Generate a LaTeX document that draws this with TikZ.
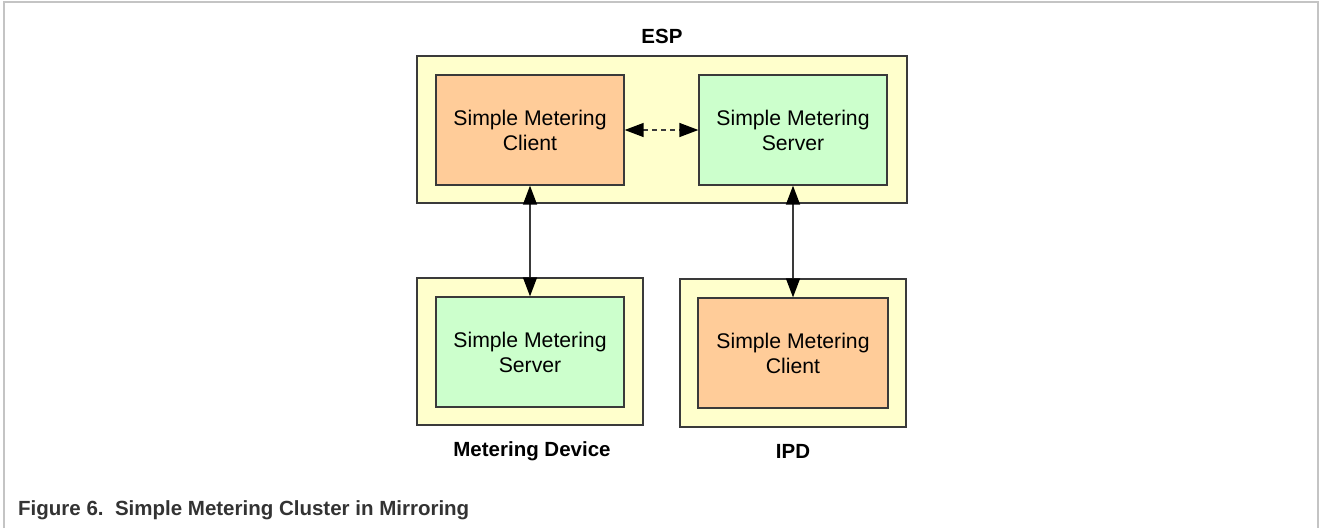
\documentclass[tikz,border=0pt]{standalone}
\usepackage{fontspec}
\setmainfont{Liberation Sans}
\usetikzlibrary{arrows.meta}
\definecolor{devfill}{HTML}{FFFFCC}
\definecolor{clientfill}{HTML}{FFCC99}
\definecolor{serverfill}{HTML}{CCFFCC}
\definecolor{boxline}{HTML}{3A3A3A}
\definecolor{framegray}{HTML}{C4C4C4}
\definecolor{captiongray}{HTML}{333333}
\tikzset{
  device/.style={draw=boxline, line width=1.3pt, fill=devfill},
  cluster/.style={draw=boxline, line width=1.3pt, align=center,
    font=\fontsize{21.2}{25}\selectfont, inner sep=0pt},
  clientbox/.style={cluster, fill=clientfill},
  serverbox/.style={cluster, fill=serverfill},
  devlabel/.style={font=\fontsize{20.5}{24}\selectfont\bfseries},
  tip/.tip={Triangle[length=19pt,width=14pt,color=black,fill=black]},
  link/.style={line width=1.4pt, draw=boxline, {tip}-{tip}},
}
\begin{document}
\begin{tikzpicture}[x=1pt, y=-1pt]
  \useasboundingbox (0,0) rectangle (1320,528);
  % page frame
  \draw[framegray, line width=2pt] (4,528) -- (4,2) -- (1318,2) -- (1318,528);

  % ESP
  \draw[device] (417,56) rectangle (907,203);
  \node[devlabel] (esplabel) at (662,36) {ESP};
  \node[clientbox, minimum width=188pt, minimum height=110pt] (espclient) at (530,130) {Simple Metering\\Client};
  \node[serverbox, minimum width=188pt, minimum height=110pt] (espserver) at (793,130) {Simple Metering\\Server};

  % Metering Device
  \draw[device] (417,278) rectangle (643,425);
  \node[serverbox, minimum width=188pt, minimum height=110pt] (mdserver) at (530,352) {Simple Metering\\Server};
  \node[devlabel] (mdlabel) at (532,451) {Metering Device};

  % IPD
  \draw[device] (680,279) rectangle (906,427);
  \node[clientbox, minimum width=190pt, minimum height=110pt] (ipdclient) at (793,353) {Simple Metering\\Client};
  \node[devlabel] (ipdlabel) at (793,451) {IPD};

  % links
  \draw[link, dash pattern=on 5pt off 4pt] (espclient.east) -- (espserver.west);
  \draw[link] (espclient.south) -- (mdserver.north);
  \draw[link] (espserver.south) -- (ipdclient.north);

  % caption
  \node[anchor=base west, text=captiongray, font=\fontsize{20.5}{24}\selectfont\bfseries, inner sep=0pt] (caption) at (18,515)
    {Figure 6.\ \ Simple Metering Cluster in Mirroring};
\end{tikzpicture}
\end{document}
